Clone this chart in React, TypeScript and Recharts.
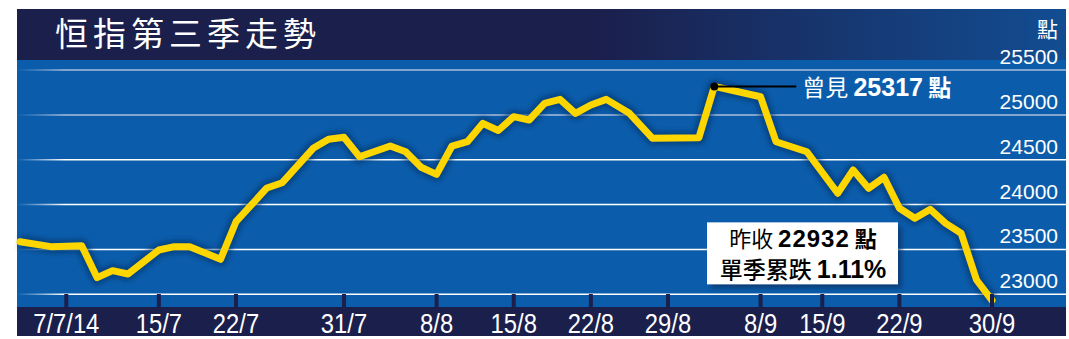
import React from "react";
import { LineChart, Line, XAxis, YAxis, CartesianGrid, ReferenceDot } from "recharts";

// trading-day index (2 Jul 2014 = 0 ... 30 Sep 2014 = 63) of each drawn vertex
const dayIndex = [
  0, 2, 4, 5, 6, 7, 9, 10, 11, 13, 14, 16, 17, 19, 20, 21, 22, 24, 25, 26, 27,
  28, 29, 30, 31, 32, 33, 34, 35, 36, 37, 38, 39.5, 41, 44, 45, 48, 49, 51, 53,
  54, 55, 56, 57, 58, 59, 60, 61, 62, 63,
];
const hsiClose = [
  23586, 23531, 23542, 23185, 23263, 23226, 23494, 23531, 23531, 23390, 23809,
  24185, 24244, 24627, 24728, 24750, 24534, 24653, 24589, 24416, 24337, 24653,
  24701, 24906, 24826, 24980, 24943, 25129, 25173, 25017, 25110, 25173, 25017,
  24739, 24745, 25317, 25202, 24701, 24589, 24126, 24385, 24181, 24304, 23959,
  23847, 23947, 23791, 23680, 23159, 22932,
];

const tickDays = [3, 9, 14, 21, 27, 32, 37, 42, 48, 52, 57, 63];
const tickLabels = ["7/7/14", "15/7", "22/7", "31/7", "8/8", "15/8", "22/8", "29/8", "8/9", "15/9", "22/9", "30/9"];
const yTicks = [23000, 23500, 24000, 24500, 25000, 25500];
const greyTicks = [25000, 25500];
const whiteTicks = [23000, 23500, 24000, 24500];

const title = "恒指第三季走勢";
const unit = "點";
const peakDay = 45;
const peakValue = 25317;
const lastDay = 63;
const lastValue = 22932;
const quarterDrop = "1.11%";

const data = dayIndex.map((d, i) => ({ day: d, close: hsiClose[i] }));

const NAVY = "#1b1f4c";
const BLUE = "#0b5dab";
const YELLOW = "#fdd600";
const CJK = "'Noto Sans CJK TC', 'Noto Sans CJK SC', sans-serif";
const NUM = "'Liberation Sans', Arial, sans-serif";

const XTick = (props: any) => {
  const { x, y, payload } = props;
  const label = tickLabels[tickDays.indexOf(payload.value)];
  return (
    <g>
      <rect x={x - 2} y={y - 13} width={4} height={13} fill={NAVY} />
      <text
        transform={`translate(${x},${y + 26}) scale(0.85,1)`}
        textAnchor="middle"
        fill="#fff"
        fontSize={28}
        fontFamily={NUM}
      >
        {label}
      </text>
    </g>
  );
};

const YTick = (props: any) => {
  const { x, y, payload } = props;
  return (
    <text x={x - 8} y={y - 6} textAnchor="end" fill="#fff" fontSize={21} fontFamily={NUM}>
      {payload.value}
    </text>
  );
};

const PeakMark = (props: any) => {
  const { cx, cy } = props;
  return (
    <g>
      <line x1={cx} y1={cy} x2={cx + 82} y2={cy} stroke="#000" strokeWidth={2} />
      <circle cx={cx} cy={cy} r={4} fill="#000" />
      <text x={cx + 88} y={cy + 10} fill="#fff">
        <tspan fontFamily={CJK} fontSize={23}>曾見 </tspan>
        <tspan fontFamily={NUM} fontSize={25} fontWeight="bold">{peakValue}</tspan>
        <tspan fontFamily={CJK} fontSize={23} fontWeight="bold"> {unit}</tspan>
      </text>
    </g>
  );
};

const LastBox = (props: any) => {
  const { cx, cy } = props;
  const bx = cx - 285;
  const by = cy - 78;
  return (
    <g>
      <rect x={bx + 4} y={by + 4} width={191} height={62} fill="#072a5c" opacity={0.6} filter="url(#softBlur)" />
      <rect x={bx} y={by} width={191} height={62} fill="#fff" />
      <text x={bx + 96} y={by + 25} textAnchor="middle" fill="#000">
        <tspan fontFamily={CJK} fontSize={22}>昨收 </tspan>
        <tspan fontFamily={NUM} fontSize={24} fontWeight="bold" letterSpacing={1}>{lastValue}</tspan>
        <tspan fontFamily={CJK} fontSize={22} fontWeight="bold"> {unit}</tspan>
      </text>
      <text x={bx + 96} y={by + 56} textAnchor="middle" fill="#000">
        <tspan fontFamily={CJK} fontSize={23} fontWeight={500}>單季累跌 </tspan>
        <tspan fontFamily={NUM} fontSize={25} fontWeight="bold">{quarterDrop}</tspan>
      </text>
    </g>
  );
};

export default function App() {
  return (
    <div style={{ position: "absolute", left: 0, top: 0, width: 1069, height: 339, background: "#fff" }}>
      <svg width={1069} height={339} style={{ position: "absolute", left: 0, top: 0 }}>
        <defs>
          <linearGradient id="band" x1="0" y1="0" x2="1" y2="0">
            <stop offset="0" stopColor={NAVY} />
            <stop offset="0.55" stopColor={NAVY} />
            <stop offset="1" stopColor="#124d92" />
          </linearGradient>
        </defs>
        <rect x={17} y={9} width={1049} height={51} fill="url(#band)" />
        <rect x={17} y={60} width={1049} height={247} fill={BLUE} />
        <rect x={17} y={307} width={1049} height={29} fill={NAVY} />
        <text x={55} y={46} fill="#fff" fontSize={33} letterSpacing={5} fontFamily={CJK}>
          {title}
        </text>
        <text x={1058} y={37} textAnchor="end" fill="#fff" fontSize={21} fontFamily={CJK}>
          {unit}
        </text>
      </svg>
      <div style={{ position: "absolute", left: 0, top: 0 }}>
        <LineChart width={1069} height={339} data={data} margin={{ top: 60, right: 2, bottom: 0, left: 17 }}>
          <defs>
            <linearGradient id="gridWhite" gradientUnits="userSpaceOnUse" x1={17} y1={0} x2={65} y2={0}>
              <stop offset="0" stopColor="#fff" stopOpacity={0} />
              <stop offset="1" stopColor="#fff" stopOpacity={1} />
            </linearGradient>
            <linearGradient id="gridGrey" gradientUnits="userSpaceOnUse" x1={17} y1={0} x2={65} y2={0}>
              <stop offset="0" stopColor="#a9bedb" stopOpacity={0} />
              <stop offset="1" stopColor="#a9bedb" stopOpacity={1} />
            </linearGradient>
            <filter id="glow" x="-5%" y="-20%" width="110%" height="140%">
              <feGaussianBlur stdDeviation="2.5" />
            </filter>
            <filter id="softBlur" x="-10%" y="-20%" width="120%" height="140%">
              <feGaussianBlur stdDeviation="2" />
            </filter>
          </defs>
          <CartesianGrid vertical={false} horizontalValues={whiteTicks} stroke="url(#gridWhite)" strokeWidth={1.5} />
          <CartesianGrid vertical={false} horizontalValues={greyTicks} stroke="url(#gridGrey)" strokeWidth={1.5} />
          <XAxis
            dataKey="day"
            type="number"
            domain={[-0.194, 67.796]}
            ticks={tickDays}
            tick={<XTick />}
            tickSize={0}
            tickMargin={0}
            tickLine={false}
            axisLine={false}
            height={32}
            interval={0}
          />
          <YAxis
            orientation="right"
            type="number"
            domain={[22858, 25612]}
            ticks={yTicks}
            tick={<YTick />}
            tickSize={0}
            tickMargin={0}
            tickLine={false}
            axisLine={false}
            width={1}
            interval={0}
          />
          <Line
            dataKey="close"
            stroke="#06306a"
            strokeWidth={14}
            strokeOpacity={0.6}
            dot={false}
            filter="url(#glow)"
            strokeLinejoin="round"
            isAnimationActive={false}
          />
          <Line
            dataKey="close"
            stroke={YELLOW}
            strokeWidth={7}
            dot={false}
            strokeLinejoin="round"
            strokeLinecap="round"
            isAnimationActive={false}
          />
          <ReferenceDot x={peakDay} y={peakValue} r={4} shape={<PeakMark />} />
          <ReferenceDot x={lastDay} y={lastValue} r={0} shape={<LastBox />} />
        </LineChart>
      </div>
    </div>
  );
}
